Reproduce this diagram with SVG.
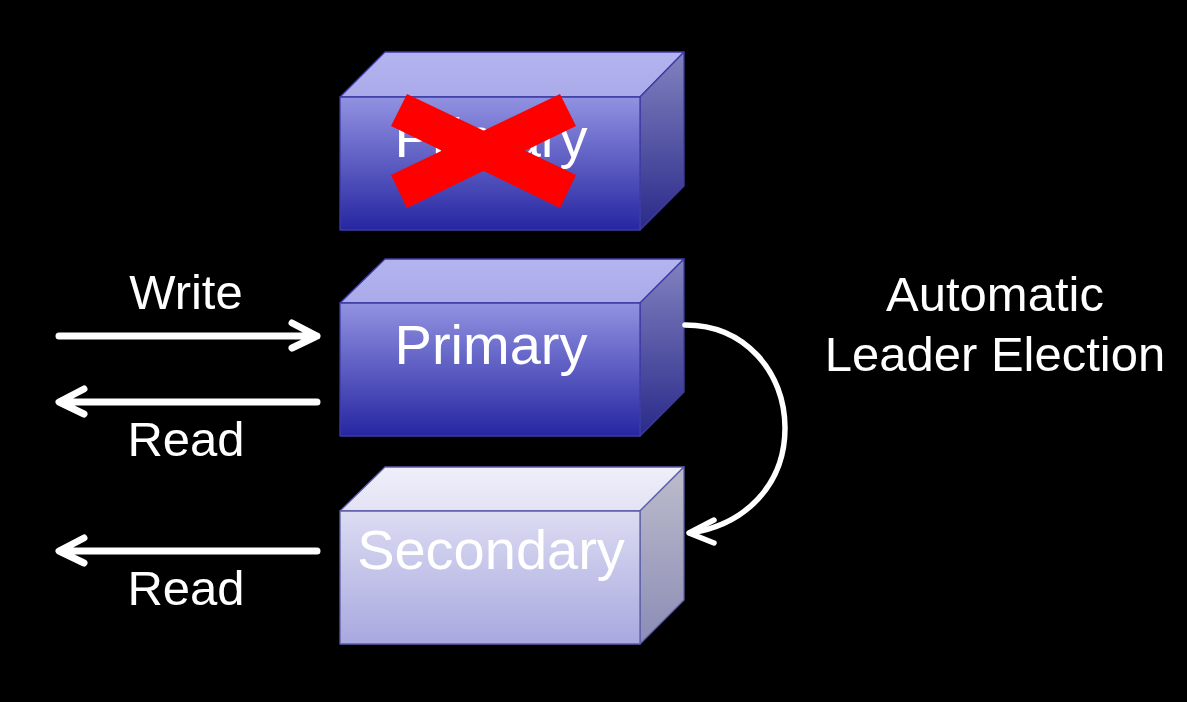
<svg xmlns="http://www.w3.org/2000/svg" width="1187" height="702" viewBox="0 0 1187 702">
<defs>
<linearGradient id="pf" x1="0" y1="0" x2="0" y2="1"><stop offset="0" stop-color="#9292e2"/><stop offset="1" stop-color="#2626a2"/></linearGradient>
<linearGradient id="pt" x1="0" y1="0" x2="0" y2="1"><stop offset="0" stop-color="#b4b4f0"/><stop offset="1" stop-color="#aaaaea"/></linearGradient>
<linearGradient id="pr" x1="0" y1="0" x2="0" y2="1"><stop offset="0" stop-color="#8282c0"/><stop offset="1" stop-color="#2a2a8a"/></linearGradient>
<linearGradient id="sf" x1="0" y1="0" x2="0" y2="1"><stop offset="0" stop-color="#dcdcf2"/><stop offset="1" stop-color="#a8a8e0"/></linearGradient>
<linearGradient id="st" x1="0" y1="0" x2="0" y2="1"><stop offset="0" stop-color="#efeffa"/><stop offset="1" stop-color="#e2e2f4"/></linearGradient>
<linearGradient id="sr" x1="0" y1="0" x2="0" y2="1"><stop offset="0" stop-color="#bcbccc"/><stop offset="1" stop-color="#8c8cb6"/></linearGradient>
</defs>
<style>
.lbl{font-family:"Liberation Sans",Arial,sans-serif;fill:#ffffff;text-anchor:middle}
.box{font-size:56px}
.side{font-size:49px}
.edge{stroke-width:1.3;stroke-linejoin:round}
.pe{stroke:#3c3ca4}
.se{stroke:#5e5eaa}
.arr{fill:none;stroke:#ffffff;stroke-linecap:round;stroke-linejoin:round}
</style>
<rect width="1187" height="702" fill="#000000"/>

<g id="failed-primary">
<polygon class="edge pe" points="340,97 385,52 684,52 640,97" fill="url(#pt)"/>
<polygon class="edge pe" points="640,97 684,52 684,186 640,230" fill="url(#pr)"/>
<rect class="edge pe" x="340" y="97" width="300" height="133" fill="url(#pf)"/>
<text class="lbl box" x="491" y="157">Primary</text>
<polygon points="407,94 576,175 560,208 391,126" fill="#ff0000"/>
<polygon points="391,175 560,94 576,126 407,208" fill="#ff0000"/>
</g>

<g id="primary">
<polygon class="edge pe" points="340,303 385,259 684,259 640,303" fill="url(#pt)"/>
<polygon class="edge pe" points="640,303 684,259 684,392 640,436" fill="url(#pr)"/>
<rect class="edge pe" x="340" y="303" width="300" height="133" fill="url(#pf)"/>
<text class="lbl box" x="491" y="364">Primary</text>
</g>

<g id="secondary">
<polygon class="edge se" points="340,511 385,467 684,467 640,511" fill="url(#st)"/>
<polygon class="edge se" points="640,511 684,467 684,600 640,644" fill="url(#sr)"/>
<rect class="edge se" x="340" y="511" width="300" height="133" fill="url(#sf)"/>
<text class="lbl box" x="491" y="569">Secondary</text>
</g>

<g id="labels">
<text class="lbl side" x="186" y="309">Write</text>
<text class="lbl side" x="186" y="456">Read</text>
<text class="lbl side" x="186" y="605">Read</text>
<text class="lbl side" x="995" y="311">Automatic</text>
<text class="lbl side" x="995" y="371">Leader Election</text>
</g>

<g id="connectors">
<g stroke-width="7" class="arr">
<path d="M59,336 H317 M292,323 L317,336 L292,348"/>
<path d="M317,402 H60 M84,389 L59,402 L84,414"/>
<path d="M317,551 H60 M84,538 L59,551 L84,563"/>
</g>
<g stroke-width="5.5" class="arr">
<path d="M685,325 C745,325 785,372 785,428 C785,485 745,525 690,533"/>
<path d="M714,520 L689,533 L714,543"/>
</g>
</g>
</svg>
